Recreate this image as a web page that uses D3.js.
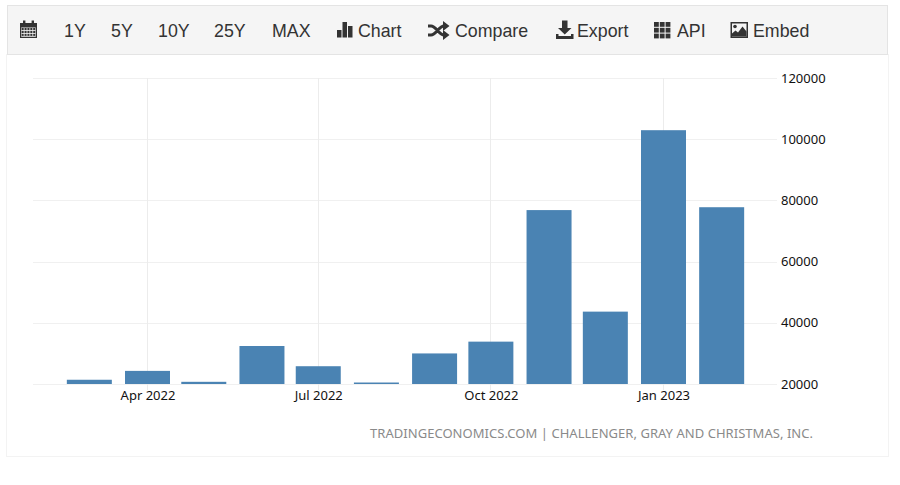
<!DOCTYPE html>
<html><head><meta charset="utf-8">
<script src="https://cdn.jsdelivr.net/npm/d3@7"></script>
<style>
html,body{margin:0;padding:0;background:#fff;}
svg{display:block;}
</style></head><body>
<div id="chart"></div>
<script>
const months = ["2022-03","2022-04","2022-05","2022-06","2022-07","2022-08","2022-09","2022-10","2022-11","2022-12","2023-01","2023-02"];
const layoffs = [21387,24286,20715,32417,25810,20485,29989,33843,76835,43651,102943,77770];
const yTicks = [20000,40000,60000,80000,100000,120000];
const xTicks = ["2022-04","2022-07","2022-10","2023-01"];
const toolbarRanges = ["1Y","5Y","10Y","25Y","MAX"];
const sourceText = "TRADINGECONOMICS.COM | CHALLENGER, GRAY AND CHRISTMAS, INC.";

const parse = d3.utcParse("%Y-%m");
const fmt = d3.utcFormat("%b %Y");
const svg = d3.select("#chart").append("svg").attr("width",900).attr("height",485);

// panel + toolbar
svg.append("rect").attr("x",6.5).attr("y",54.5).attr("width",882).attr("height",402).attr("fill","#fff").attr("stroke","#f3f3f3");
svg.append("rect").attr("x",7.5).attr("y",5.5).attr("width",880).attr("height",49).attr("fill","#f5f5f5").attr("stroke","#e4e4e4");

const x = d3.scaleUtc().domain([parse("2022-04"),parse("2023-01")]).range([147.5,663.5]);
const y = d3.scaleLinear().domain([20000,120000]).range([384,78]);
const barW = 45;

// grid
const g = svg.append("g");
g.selectAll(".h").data(yTicks).join("line").attr("class","h")
 .attr("x1",33).attr("x2",777).attr("y1",d=>Math.round(y(d))+.5).attr("y2",d=>Math.round(y(d))+.5)
 .attr("stroke","#f0f0f0");
g.selectAll(".v").data(xTicks).join("line").attr("class","v")
 .attr("x1",d=>Math.floor(x(parse(d)))+.5).attr("x2",d=>Math.floor(x(parse(d)))+.5).attr("y1",78).attr("y2",390)
 .attr("stroke","#ececec");

// bars
g.selectAll(".bar").data(months.map((m,i)=>({m,v:layoffs[i]}))).join("rect").attr("class","bar")
 .attr("x",d=>x(parse(d.m))-barW/2).attr("width",barW)
 .attr("y",d=>y(d.v)).attr("height",d=>y(20000)-y(d.v)).attr("fill","#4a83b3");

// axes
const axisFont = "'Noto Sans','Open Sans',sans-serif";
const yAxis = svg.append("g").attr("transform","translate(781,0)")
  .call(d3.axisRight(y).tickValues(yTicks).tickSize(0).tickPadding(0).tickFormat(d3.format("d")));
yAxis.select(".domain").remove();
yAxis.selectAll("text").attr("font-family",axisFont).attr("font-size",13).attr("fill","#111");
const xAxis = svg.append("g").attr("transform","translate(0,391)")
  .call(d3.axisBottom(x).tickValues(xTicks.map(parse)).tickSize(0).tickPadding(0).tickFormat(fmt));
xAxis.select(".domain").remove();
xAxis.selectAll("text").attr("font-family",axisFont).attr("font-size",13).attr("fill","#111");

svg.append("text").attr("x",370).attr("y",438)
 .attr("textLength",443).attr("lengthAdjust","spacing")
 .attr("font-family",axisFont).attr("font-size",13).attr("fill","#8a8a8a").text(sourceText);

// toolbar text
const tbFont = "'Liberation Sans',Arial,sans-serif";
const labels = [
 {t:"1Y",x:64},{t:"5Y",x:111},{t:"10Y",x:158},{t:"25Y",x:214},{t:"MAX",x:272},
 {t:"Chart",x:358},{t:"Compare",x:455},{t:"Export",x:577},{t:"API",x:677},{t:"Embed",x:753}];
labels.forEach((d,i)=>{ if(i<toolbarRanges.length) d.t=toolbarRanges[i]; });
svg.append("g").selectAll("text").data(labels).join("text")
 .attr("x",d=>d.x).attr("y",36.5).attr("font-family",tbFont).attr("font-size",17.8).attr("fill","#333").text(d=>d.t);

// icons
const ic = svg.append("g").attr("fill","#333");
// calendar
ic.append("path").attr("fill-rule","evenodd").attr("d","M20 23h17v15h-17zM21.2 27.5v9.3h14.6v-9.3z");
ic.append("rect").attr("x",23).attr("y",20.5).attr("width",2.4).attr("height",3);
ic.append("rect").attr("x",31.6).attr("y",20.5).attr("width",2.4).attr("height",3);
for(let r=0;r<3;r++)for(let c=0;c<5;c++) ic.append("rect").attr("x",21.6+c*2.9).attr("y",28+r*2.9).attr("width",2.1).attr("height",2.1);
// chart bars
ic.append("rect").attr("x",337).attr("y",30).attr("width",4.5).attr("height",7.5);
ic.append("rect").attr("x",342.5).attr("y",22).attr("width",4.5).attr("height",15.5);
ic.append("rect").attr("x",348).attr("y",26).attr("width",4.5).attr("height",11.5);
// shuffle
ic.append("path").attr("fill","none").attr("stroke","#333").attr("stroke-width",3)
 .attr("d","M428 35h3c5 0 8-9 13-9h1M428 26h3c5 0 8 9 13 9h1");
ic.append("path").attr("d","M443 21l6.5 5-6.5 5zM443 30l6.5 5-6.5 5z");
// export
ic.append("path").attr("d","M562 20.5h5.5v7.5h4l-6.75 6.5-6.75-6.5h4zM556 34h2.5v2h12.5v-2h2.5v5h-17.5z");
// api grid
for(let r=0;r<3;r++)for(let c=0;c<3;c++) ic.append("rect").attr("x",654+c*5.8).attr("y",22+r*5.8).attr("width",4.8).attr("height",4.8);
// embed
ic.append("path").attr("fill-rule","evenodd").attr("d","M730.5 22h17.5v16h-17.5zM732 23.5v13h14.5v-13z");
ic.append("path").attr("d","M732 36.5v-3l3.5-3 2.5 2 4.5-6 4 5v5z");
ic.append("circle").attr("cx",735).attr("cy",26.5).attr("r",1.8);
</script>
</body></html>
